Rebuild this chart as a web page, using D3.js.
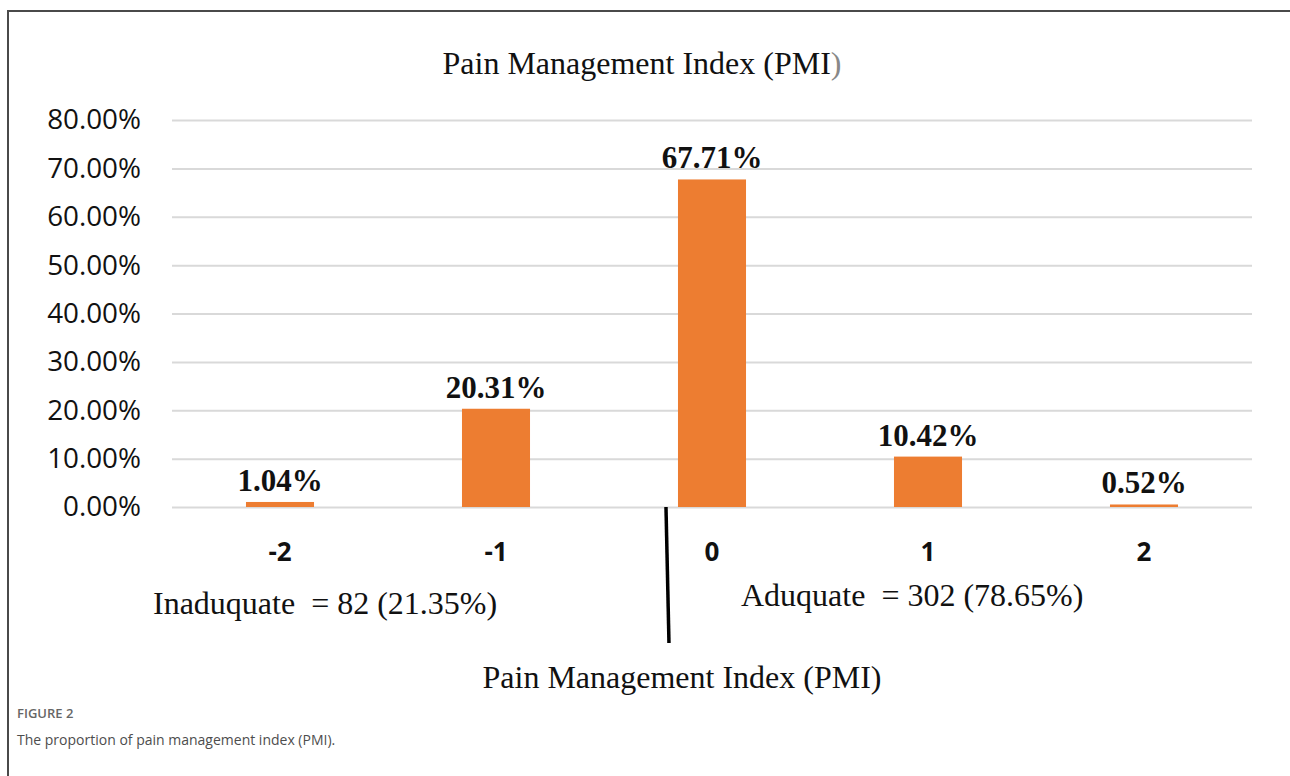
<!DOCTYPE html>
<html>
<head>
<meta charset="utf-8">
<script src="https://cdn.jsdelivr.net/npm/d3@7"></script>
<style>
  body { margin: 0; background: #fff; }
  svg { display: block; }
</style>
</head>
<body>
<script>
// PMI categories and their share of patients
var categories = ['-2', '-1', '0', '1', '2'];
var shares = [1.04, 20.31, 67.71, 10.42, 0.52];
var yTicks = [0, 10, 20, 30, 40, 50, 60, 70, 80];
var groupNotes = ['Inaduquate  = 82 (21.35%)', 'Aduquate  = 302 (78.65%)'];

var W = 1290, H = 776;
var plotL = 172, plotR = 1252, plotT = 120, plotB = 507;
var serif = '"Liberation Serif", "Times New Roman", serif';
var sans = '"Open Sans", sans-serif';

var svg = d3.select('body').append('svg')
	.attr('width', W)
	.attr('height', H);

// figure frame (top and left edges only)
svg.append('path')
	.attr('d', 'M8,776V11H1290')
	.attr('fill', 'none')
	.attr('stroke', '#4a4a4a')
	.attr('stroke-width', 2);

var x = d3.scaleBand()
	.domain(categories)
	.range([plotL, plotR])
	.paddingInner(0.685)
	.paddingOuter(0.3425);

var y = d3.scaleLinear()
	.domain([0, 80])
	.range([plotB, plotT]);

// title
svg.append('text')
	.attr('x', 642)
	.attr('y', 74)
	.attr('text-anchor', 'middle')
	.style('font-family', serif)
	.style('font-size', '32px')
	.style('fill', '#111')
	.text('Pain Management Index (PMI')
	.append('tspan')
	.style('fill', '#888')
	.text(')');

// gridlines + tick labels
var yAxis = d3.axisLeft(y)
	.tickValues(yTicks)
	.tickSize(-(plotR - plotL))
	.tickPadding(31)
	.tickFormat(function(d) { return d.toFixed(2) + '%'; });

var gy = svg.append('g')
	.attr('transform', 'translate(' + plotL + ',0)')
	.call(yAxis);
gy.select('.domain').remove();
gy.selectAll('.tick line')
	.attr('stroke', '#d9d9d9')
	.attr('stroke-width', 2);
gy.selectAll('.tick text')
	.attr('fill', '#111')
	.style('font-family', sans)
	.style('font-size', '27.8px');

// bars
svg.append('g').selectAll('rect')
	.data(shares)
	.enter().append('rect')
	.attr('x', function(d, i) { return x(categories[i]); })
	.attr('y', function(d) { return y(d); })
	.attr('width', x.bandwidth())
	.attr('height', function(d) { return y(0) - y(d); })
	.attr('fill', '#ED7D31');

// value labels
svg.append('g').selectAll('text')
	.data(shares)
	.enter().append('text')
	.attr('x', function(d, i) { return x(categories[i]) + x.bandwidth() / 2; })
	.attr('y', function(d) { return y(d) - 11; })
	.attr('text-anchor', 'middle')
	.style('font-family', serif)
	.style('font-weight', 'bold')
	.style('font-size', '31px')
	.style('fill', '#111')
	.text(function(d) { return d.toFixed(2) + '%'; });

// category labels
var xAxis = d3.axisBottom(x).tickSize(0).tickPadding(0);
var gx = svg.append('g')
	.attr('transform', 'translate(0,' + plotB + ')')
	.call(xAxis);
gx.select('.domain').remove();
gx.selectAll('.tick text')
	.attr('dy', null)
	.attr('y', 54)
	.attr('fill', '#111')
	.style('font-family', sans)
	.style('font-weight', 'bold')
	.style('font-size', '26px');

// divider between inadequate and adequate groups
var divX = x('0') - 12;
svg.append('line')
	.attr('x1', divX)
	.attr('y1', plotB)
	.attr('x2', divX + 3)
	.attr('y2', 643)
	.attr('stroke', '#000')
	.attr('stroke-width', 3.5);

svg.append('text')
	.attr('x', 153)
	.attr('y', 614)
	.style('font-family', serif)
	.style('font-size', '32px')
	.style('fill', '#111')
	.style('white-space', 'pre')
	.text(groupNotes[0]);

svg.append('text')
	.attr('x', 741)
	.attr('y', 606)
	.style('font-family', serif)
	.style('font-size', '32px')
	.style('fill', '#111')
	.style('white-space', 'pre')
	.text(groupNotes[1]);

// x axis title
svg.append('text')
	.attr('x', 682)
	.attr('y', 688)
	.attr('text-anchor', 'middle')
	.style('font-family', serif)
	.style('font-size', '32px')
	.style('fill', '#111')
	.text('Pain Management Index (PMI)');

// caption
svg.append('text')
	.attr('x', 17)
	.attr('y', 718)
	.style('font-family', sans)
	.style('font-weight', '600')
	.style('font-size', '13px')
	.style('fill', '#666')
	.text('FIGURE 2');

svg.append('text')
	.attr('x', 17)
	.attr('y', 745)
	.style('font-family', sans)
	.style('font-size', '14px')
	.style('fill', '#4d4d4d')
	.text('The proportion of pain management index (PMI).');
</script>
</body>
</html>
